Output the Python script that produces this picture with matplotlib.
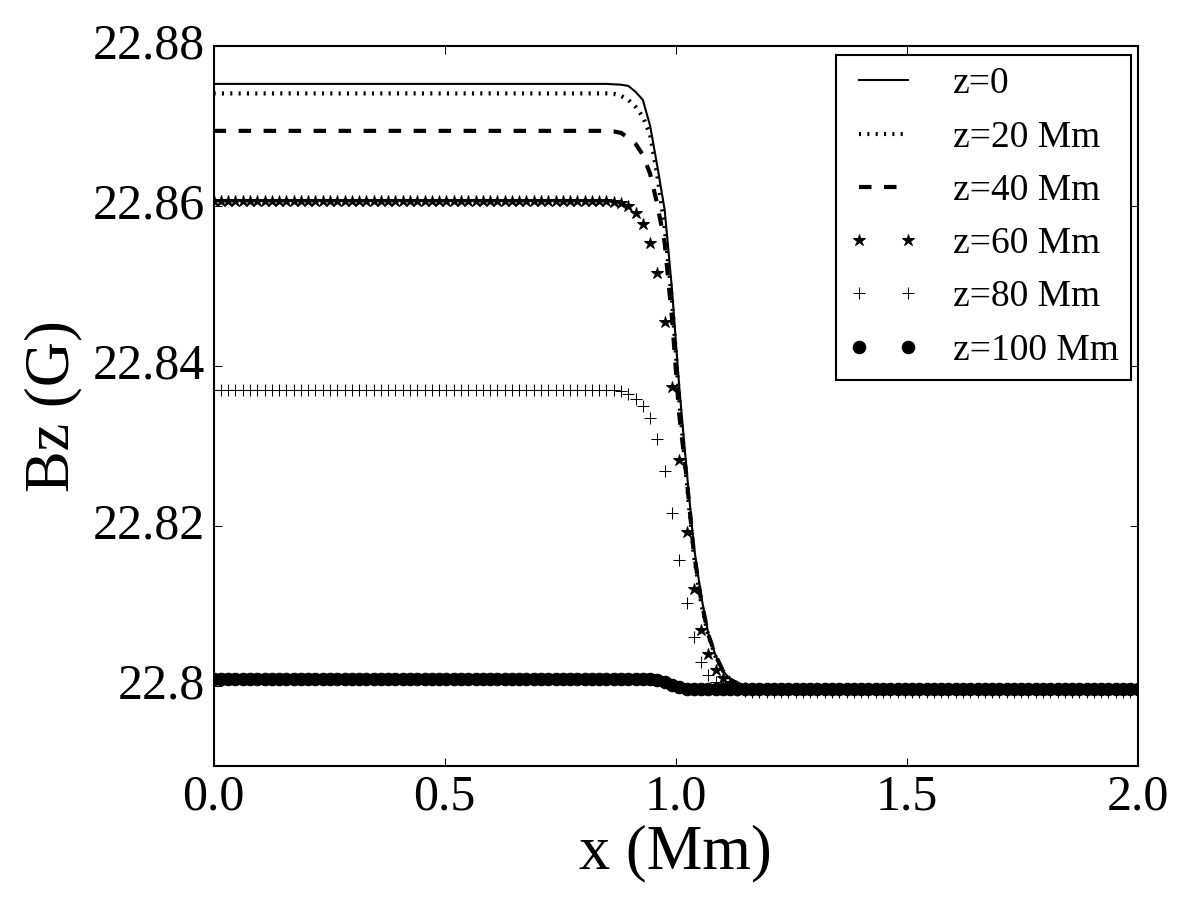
import numpy as np
import matplotlib
matplotlib.use('Agg')
import matplotlib.pyplot as plt

plt.style.use('classic')
plt.rcParams['font.family'] = 'serif'
plt.rcParams['font.serif'] = ['Liberation Serif', 'DejaVu Serif']

# grid of the profile (Mm)
n_points = 128
x = np.linspace(0.0, 2.0, n_points)
i_start = 55  # first grid index where the transition readings begin

# Bz (G): left plateau, transition from i_start, right plateau
z0_left = 22.87525
z0_trans = [22.8752, 22.87515, 22.8750, 22.87425, 22.87325, 22.8700, 22.8649,
            22.8595, 22.8496, 22.8374, 22.8271, 22.8175, 22.8113, 22.8065,
            22.8038, 22.8019, 22.8008, 22.8003, 22.7999, 22.7997]
z0_right = 22.7996

z20_left = 22.87406
z20_trans = [22.8740, 22.87375, 22.87325, 22.87238, 22.87113, 22.86888, 22.86375,
             22.85725, 22.84825, 22.83575, 22.82575, 22.81638, 22.81038, 22.80625,
             22.80363, 22.8019, 22.8008, 22.8003, 22.7999, 22.7997]
z20_right = 22.7996

z40_left = 22.86938
z40_trans = [22.86931, 22.86913, 22.8685, 22.86775, 22.86638, 22.8640, 22.86013,
             22.85538, 22.8460, 22.83388, 22.82613, 22.81675, 22.81075, 22.80638,
             22.8038, 22.8019, 22.8008, 22.8003, 22.7999, 22.7997]
z40_right = 22.7996

z60_left = 22.86056
z60_trans = [22.8605, 22.86038, 22.8600, 22.85909, 22.85775, 22.85541, 22.85159,
             22.84554, 22.83741, 22.82825, 22.81929, 22.81213, 22.8070, 22.8040,
             22.8020, 22.80096, 22.8003, 22.7999, 22.7997, 22.79963]
z60_right = 22.7996

z80_left = 22.8370
z80_trans = [22.8370, 22.83688, 22.8365, 22.83588, 22.83504, 22.83354, 22.83084,
             22.82691, 22.82159, 22.81575, 22.81034, 22.80609, 22.80304, 22.80138,
             22.80054, 22.8000, 22.79969, 22.7995, 22.79938, 22.79925]
z80_right = 22.7992

z100_left = 22.80088
z100_trans = [22.80088, 22.80088, 22.80088, 22.80088, 22.80088, 22.80084, 22.80069,
              22.80044, 22.80013, 22.79981, 22.79963, 22.79956]
z100_right = 22.79956

labels = ['z=0', 'z=20 Mm', 'z=40 Mm', 'z=60 Mm', 'z=80 Mm', 'z=100 Mm']


def profile(left, trans, right):
    n_right = n_points - i_start - len(trans)
    return np.concatenate([np.full(i_start, left), trans, np.full(n_right, right)])


fig = plt.figure(figsize=(8, 6), dpi=150)
ax = fig.add_axes([0.178, 0.149, 0.770, 0.800])

ax.plot(x, profile(z0_left, z0_trans, z0_right), 'k-', lw=1.0, label=labels[0])
ax.plot(x, profile(z20_left, z20_trans, z20_right), 'k:', lw=2.0, label=labels[1])
ax.plot(x, profile(z40_left, z40_trans, z40_right), 'k--', lw=2.0, label=labels[2])
ax.plot(x, profile(z60_left, z60_trans, z60_right), 'k*', ms=6, label=labels[3])
ax.plot(x, profile(z80_left, z80_trans, z80_right), 'k+', ms=6, label=labels[4])
ax.plot(x, profile(z100_left, z100_trans, z100_right), 'ko', ms=6, label=labels[5])

ax.set_xlim(0.0, 2.0)
ax.set_ylim(22.79, 22.88)
ax.set_xticks([0.0, 0.5, 1.0, 1.5, 2.0])
ax.set_xticklabels(['0.0', '0.5', '1.0', '1.5', '2.0'])
ax.set_yticks([22.80, 22.82, 22.84, 22.86, 22.88])
ax.set_yticklabels(['22.8', '22.82', '22.84', '22.86', '22.88'])
ax.tick_params(labelsize=24)

ax.set_xlabel('x (Mm)', fontsize=30, labelpad=2)
ax.set_ylabel('Bz (G)', fontsize=30)

ax.legend(loc='upper right', bbox_to_anchor=(0.9924, 0.9875), borderaxespad=0.0,
          fontsize=18, numpoints=2, handlelength=1.9, handletextpad=0.9,
          labelspacing=0.5, borderpad=0.32)

fig.savefig('out.png', dpi=150)
